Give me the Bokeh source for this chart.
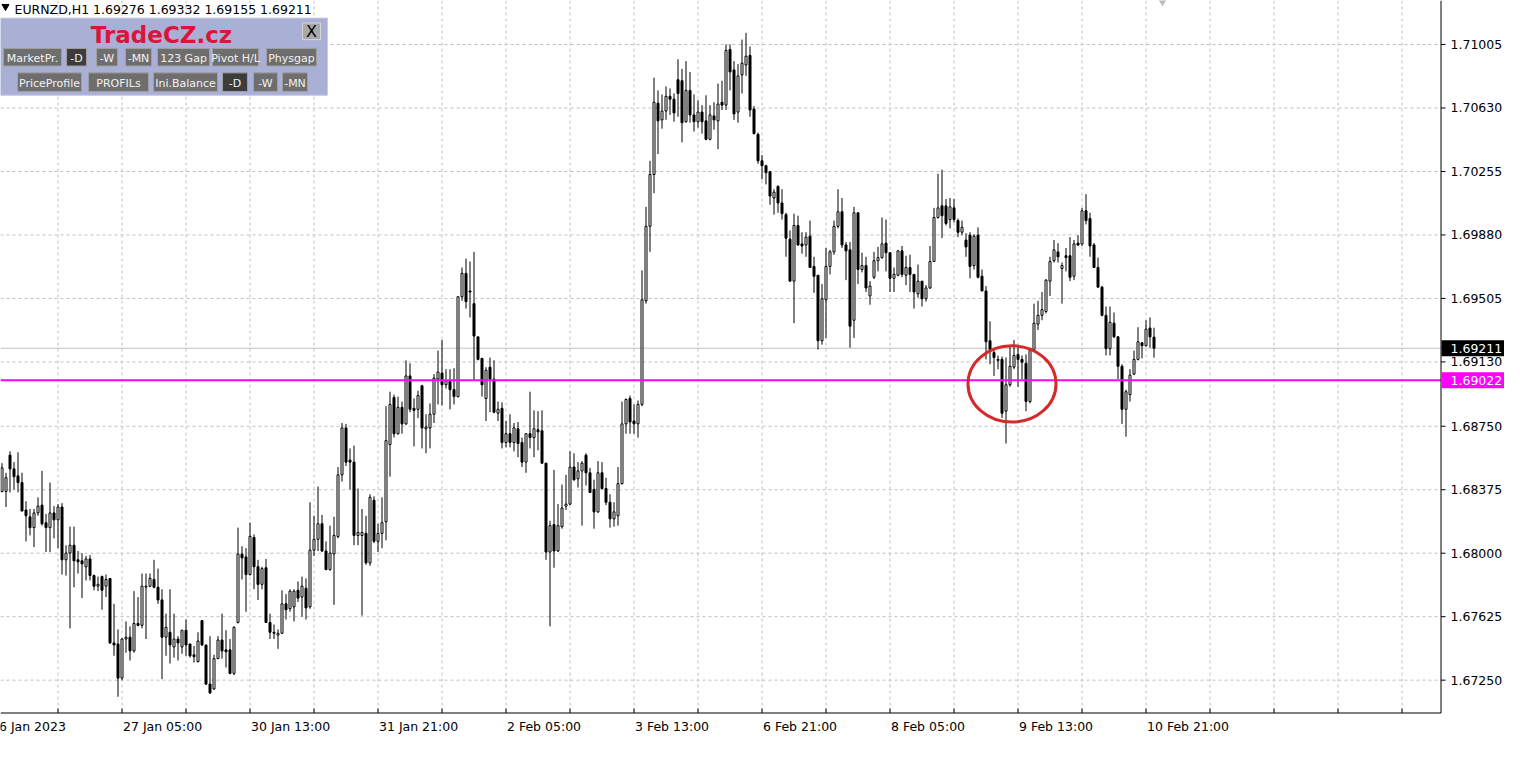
from bokeh.plotting import figure
from bokeh.models import ColumnDataSource
from bokeh.core.properties import value
from bokeh.embed import file_html
from bokeh.resources import INLINE

# ---------------- data (EURNZD, H1) ----------------
symbol = "EURNZD,H1"

opens = [
 1.68365, 1.68365, 1.68579, 1.68498, 1.68457, 1.68417, 1.68255, 1.68215, 1.68151, 1.68238, 1.68284, 1.68180, 1.68151, 1.68238, 1.68197, 1.68273,
 1.67961, 1.68001, 1.68047, 1.67961, 1.67955, 1.67920, 1.67966, 1.67868, 1.67805, 1.67862, 1.67805, 1.67851, 1.67470, 1.67464, 1.67262, 1.67493,
 1.67504, 1.67423, 1.67585, 1.67574, 1.67799, 1.67805, 1.67845, 1.67799, 1.67724, 1.67504, 1.67533, 1.67446, 1.67493, 1.67446, 1.67545, 1.67464,
 1.67400, 1.67360, 1.67602, 1.67458, 1.67227, 1.67198, 1.67377, 1.67487, 1.67429, 1.67429, 1.67290, 1.67591, 1.67995, 1.67978, 1.67874, 1.68093,
 1.67920, 1.67816, 1.67914, 1.67591, 1.67533, 1.67516, 1.67527, 1.67701, 1.67672, 1.67683, 1.67781, 1.67741, 1.67793, 1.67683, 1.68018, 1.68082,
 1.68174, 1.68013, 1.67903, 1.67995, 1.68099, 1.68463, 1.68740, 1.68550, 1.68538, 1.68105, 1.68105, 1.68117, 1.67943, 1.68313, 1.68070, 1.68117,
 1.68186, 1.68642, 1.68920, 1.68706, 1.68862, 1.68764, 1.69047, 1.68856, 1.68850, 1.68989, 1.68735, 1.68740, 1.68821, 1.69029, 1.69064, 1.68995,
 1.69018, 1.68966, 1.68925, 1.69515, 1.69653, 1.69549, 1.69474, 1.69278, 1.69151, 1.68914, 1.69099, 1.69029, 1.68827, 1.68856, 1.68654, 1.68706,
 1.68654, 1.68735, 1.68654, 1.68538, 1.68706, 1.68683, 1.68729, 1.68723, 1.68532, 1.68007, 1.68169, 1.68013, 1.68157, 1.68278, 1.68290, 1.68509,
 1.68440, 1.68486, 1.68579, 1.68475, 1.68377, 1.68244, 1.68475, 1.68382, 1.68301, 1.68203, 1.68221, 1.68411, 1.68764, 1.68914, 1.68781, 1.68764,
 1.68879, 1.69491, 1.69931, 1.70237, 1.70658, 1.70560, 1.70612, 1.70699, 1.70682, 1.70797, 1.70791, 1.70549, 1.70734, 1.70589, 1.70549, 1.70606,
 1.70554, 1.70445, 1.70583, 1.70554, 1.70664, 1.70647, 1.70976, 1.70855, 1.70606, 1.70826, 1.70884, 1.70941, 1.70624, 1.70474, 1.70318, 1.70289,
 1.70254, 1.70098, 1.70167, 1.70069, 1.70000, 1.69855, 1.69607, 1.69936, 1.69827, 1.69821, 1.69873, 1.69694, 1.69642, 1.69255, 1.69497, 1.69694,
 1.69780, 1.69931, 1.70017, 1.69821, 1.69792, 1.69376, 1.70011, 1.69676, 1.69699, 1.69520, 1.69630, 1.69728, 1.69746, 1.69832, 1.69775, 1.69624,
 1.69642, 1.69786, 1.69642, 1.69688, 1.69647, 1.69532, 1.69607, 1.69503, 1.69567, 1.69723, 1.69983, 1.70052, 1.70052, 1.69971, 1.70040, 1.69965,
 1.69896, 1.69850, 1.69879, 1.69699, 1.69879, 1.69636, 1.69549, 1.69255, 1.69185, 1.69139, 1.69145, 1.68839, 1.68995, 1.69099, 1.69174, 1.69145,
 1.69122, 1.68896, 1.69203, 1.69353, 1.69405, 1.69428, 1.69607, 1.69728, 1.69780, 1.69682, 1.69757, 1.69757, 1.69636, 1.69832, 1.69827, 1.70023,
 1.69977, 1.69821, 1.69688, 1.69572, 1.69405, 1.69208, 1.69359, 1.69278, 1.69104, 1.68850, 1.68937, 1.69058, 1.69145, 1.69243, 1.69226, 1.69330,
 1.69276,
]

highs = [
 1.68532, 1.68475, 1.68602, 1.68538, 1.68596, 1.68475, 1.68307, 1.68261, 1.68261, 1.68330, 1.68486, 1.68232, 1.68417, 1.68278, 1.68290, 1.68296,
 1.68047, 1.68157, 1.68157, 1.68013, 1.68001, 1.67984, 1.67989, 1.67874, 1.67862, 1.67868, 1.67874, 1.67851, 1.67701, 1.67550, 1.67498, 1.67597,
 1.67568, 1.67776, 1.67741, 1.67880, 1.67880, 1.67880, 1.67961, 1.67909, 1.67787, 1.67643, 1.67787, 1.67643, 1.67510, 1.67545, 1.67608, 1.67464,
 1.67452, 1.67533, 1.67602, 1.67458, 1.67510, 1.67400, 1.67510, 1.67643, 1.67545, 1.67493, 1.67568, 1.68151, 1.68041, 1.68030, 1.68180, 1.68111,
 1.67961, 1.67920, 1.67966, 1.67643, 1.67579, 1.67550, 1.67781, 1.67758, 1.67787, 1.67787, 1.67833, 1.67862, 1.67851, 1.68301, 1.68221, 1.68394,
 1.68226, 1.68070, 1.68163, 1.68215, 1.68509, 1.68769, 1.68764, 1.68619, 1.68636, 1.68382, 1.68261, 1.68221, 1.68348, 1.68336, 1.68174, 1.68330,
 1.68868, 1.68954, 1.68937, 1.68925, 1.68896, 1.69139, 1.69122, 1.68914, 1.68960, 1.68995, 1.68821, 1.68885, 1.69058, 1.69197, 1.69260, 1.69087,
 1.69087, 1.69093, 1.69515, 1.69688, 1.69740, 1.69723, 1.69780, 1.69278, 1.69151, 1.69099, 1.69156, 1.69139, 1.68896, 1.68891, 1.68781, 1.68821,
 1.68769, 1.68775, 1.68683, 1.68706, 1.68954, 1.68844, 1.68839, 1.68844, 1.68532, 1.68192, 1.68492, 1.68290, 1.68405, 1.68463, 1.68602, 1.68590,
 1.68538, 1.68544, 1.68590, 1.68504, 1.68434, 1.68544, 1.68538, 1.68446, 1.68348, 1.68301, 1.68509, 1.68896, 1.68914, 1.68931, 1.68879, 1.68902,
 1.69671, 1.70046, 1.70318, 1.70809, 1.70734, 1.70710, 1.70757, 1.70745, 1.70716, 1.70918, 1.70861, 1.70907, 1.70843, 1.70710, 1.70676, 1.70647,
 1.70705, 1.70647, 1.70664, 1.70774, 1.70791, 1.71005, 1.71005, 1.70907, 1.70889, 1.71034, 1.71074, 1.70993, 1.70641, 1.70485, 1.70352, 1.70294,
 1.70254, 1.70150, 1.70173, 1.70150, 1.70011, 1.69907, 1.70006, 1.69994, 1.69896, 1.69896, 1.69965, 1.69751, 1.69642, 1.69590, 1.69803, 1.69792,
 1.69965, 1.70150, 1.70098, 1.69838, 1.69838, 1.70046, 1.70011, 1.69775, 1.69751, 1.69607, 1.69780, 1.69809, 1.69983, 1.69971, 1.69775, 1.69688,
 1.69792, 1.69815, 1.69757, 1.69763, 1.69647, 1.69705, 1.69607, 1.69584, 1.69815, 1.70040, 1.70242, 1.70266, 1.70092, 1.70098, 1.70092, 1.69977,
 1.69965, 1.69890, 1.69896, 1.69884, 1.69925, 1.69676, 1.69578, 1.69370, 1.69203, 1.69168, 1.69162, 1.69156, 1.69226, 1.69260, 1.69232, 1.69168,
 1.69174, 1.69203, 1.69474, 1.69491, 1.69543, 1.69619, 1.69751, 1.69850, 1.69832, 1.69717, 1.69803, 1.69867, 1.69850, 1.69879, 1.70040, 1.70121,
 1.70011, 1.69832, 1.69746, 1.69578, 1.69457, 1.69457, 1.69422, 1.69283, 1.69116, 1.68966, 1.69087, 1.69197, 1.69335, 1.69243, 1.69376, 1.69393,
 1.69332,
]

lows = [
 1.68359, 1.68273, 1.68359, 1.68376, 1.68359, 1.68249, 1.68070, 1.68105, 1.68036, 1.68221, 1.68163, 1.68007, 1.68007, 1.68088, 1.68030, 1.67874,
 1.67868, 1.67556, 1.67799, 1.67880, 1.67735, 1.67839, 1.67839, 1.67781, 1.67776, 1.67666, 1.67741, 1.67464, 1.67394, 1.67152, 1.67250, 1.67412,
 1.67366, 1.67412, 1.67568, 1.67556, 1.67493, 1.67799, 1.67793, 1.67701, 1.67256, 1.67394, 1.67348, 1.67383, 1.67366, 1.67406, 1.67394, 1.67383,
 1.67354, 1.67354, 1.67452, 1.67221, 1.67169, 1.67192, 1.67377, 1.67377, 1.67325, 1.67285, 1.67279, 1.67585, 1.67845, 1.67654, 1.67868, 1.67787,
 1.67724, 1.67787, 1.67591, 1.67493, 1.67493, 1.67435, 1.67522, 1.67608, 1.67654, 1.67597, 1.67712, 1.67625, 1.67608, 1.67672, 1.67984, 1.68013,
 1.68007, 1.67903, 1.67897, 1.67695, 1.68088, 1.68423, 1.68515, 1.68377, 1.68047, 1.68047, 1.67631, 1.67932, 1.67926, 1.68059, 1.68007, 1.68030,
 1.68076, 1.68452, 1.68683, 1.68700, 1.68706, 1.68758, 1.68833, 1.68631, 1.68798, 1.68619, 1.68590, 1.68619, 1.68769, 1.68879, 1.68873, 1.68972,
 1.68850, 1.68879, 1.68920, 1.69491, 1.69445, 1.69393, 1.69024, 1.69139, 1.68925, 1.68781, 1.68833, 1.68827, 1.68781, 1.68619, 1.68625, 1.68625,
 1.68602, 1.68567, 1.68509, 1.68475, 1.68619, 1.68567, 1.68608, 1.68527, 1.67961, 1.67568, 1.67914, 1.68007, 1.68145, 1.68255, 1.68284, 1.68428,
 1.68388, 1.68163, 1.68400, 1.68359, 1.68145, 1.68238, 1.68377, 1.68284, 1.68151, 1.68157, 1.68163, 1.68405, 1.68706, 1.68706, 1.68706, 1.68683,
 1.68868, 1.69474, 1.69780, 1.70127, 1.70358, 1.70508, 1.70560, 1.70589, 1.70549, 1.70578, 1.70427, 1.70543, 1.70543, 1.70491, 1.70514, 1.70479,
 1.70439, 1.70439, 1.70502, 1.70387, 1.70618, 1.70618, 1.70734, 1.70560, 1.70543, 1.70716, 1.70820, 1.70578, 1.70474, 1.70300, 1.70208, 1.70179,
 1.70058, 1.70000, 1.70011, 1.69971, 1.69751, 1.69607, 1.69359, 1.69815, 1.69769, 1.69751, 1.69688, 1.69538, 1.69203, 1.69232, 1.69272, 1.69647,
 1.69763, 1.69919, 1.69803, 1.69613, 1.69214, 1.69272, 1.69590, 1.69659, 1.69543, 1.69468, 1.69619, 1.69665, 1.69740, 1.69665, 1.69543, 1.69543,
 1.69636, 1.69630, 1.69584, 1.69543, 1.69445, 1.69509, 1.69457, 1.69486, 1.69561, 1.69723, 1.69977, 1.69861, 1.69936, 1.69919, 1.69954, 1.69867,
 1.69879, 1.69751, 1.69624, 1.69676, 1.69624, 1.69549, 1.69145, 1.69116, 1.69047, 1.69087, 1.68798, 1.68648, 1.68983, 1.69087, 1.68983, 1.69029,
 1.68839, 1.68885, 1.69197, 1.69318, 1.69376, 1.69416, 1.69520, 1.69717, 1.69717, 1.69474, 1.69665, 1.69607, 1.69613, 1.69815, 1.69815, 1.69942,
 1.69751, 1.69688, 1.69567, 1.69399, 1.69168, 1.69168, 1.69272, 1.69029, 1.68764, 1.68688, 1.68896, 1.69052, 1.69139, 1.69151, 1.69220, 1.69214,
 1.69155,
]

closes = [
 1.68504, 1.68446, 1.68498, 1.68452, 1.68417, 1.68249, 1.68221, 1.68151, 1.68238, 1.68278, 1.68174, 1.68151, 1.68238, 1.68197, 1.68273, 1.67961,
 1.68001, 1.68047, 1.67955, 1.67949, 1.67937, 1.67966, 1.67868, 1.67805, 1.67816, 1.67781, 1.67845, 1.67470, 1.67458, 1.67262, 1.67493, 1.67504,
 1.67423, 1.67585, 1.67574, 1.67805, 1.67805, 1.67851, 1.67799, 1.67724, 1.67504, 1.67562, 1.67458, 1.67493, 1.67470, 1.67545, 1.67458, 1.67394,
 1.67389, 1.67481, 1.67458, 1.67227, 1.67175, 1.67377, 1.67487, 1.67423, 1.67418, 1.67290, 1.67562, 1.67995, 1.67972, 1.67874, 1.68099, 1.67920,
 1.67816, 1.67909, 1.67591, 1.67533, 1.67527, 1.67527, 1.67701, 1.67666, 1.67776, 1.67776, 1.67735, 1.67805, 1.67677, 1.68018, 1.68082, 1.68174,
 1.68013, 1.67903, 1.68001, 1.68105, 1.68463, 1.68740, 1.68538, 1.68538, 1.68105, 1.68122, 1.68122, 1.67943, 1.68330, 1.68070, 1.68117, 1.68180,
 1.68665, 1.68879, 1.68706, 1.68862, 1.68764, 1.69047, 1.68850, 1.68844, 1.68931, 1.68740, 1.68746, 1.68821, 1.69035, 1.69070, 1.68995, 1.69018,
 1.68966, 1.68925, 1.69515, 1.69653, 1.69486, 1.69543, 1.69283, 1.69145, 1.68995, 1.69081, 1.69029, 1.68833, 1.68850, 1.68654, 1.68706, 1.68654,
 1.68740, 1.68648, 1.68538, 1.68706, 1.68683, 1.68735, 1.68717, 1.68532, 1.68007, 1.68163, 1.68013, 1.68163, 1.68267, 1.68290, 1.68509, 1.68434,
 1.68486, 1.68532, 1.68475, 1.68359, 1.68244, 1.68475, 1.68382, 1.68301, 1.68203, 1.68244, 1.68411, 1.68764, 1.68908, 1.68775, 1.68764, 1.68879,
 1.69497, 1.69931, 1.70237, 1.70664, 1.70554, 1.70612, 1.70699, 1.70682, 1.70601, 1.70716, 1.70543, 1.70734, 1.70589, 1.70549, 1.70606, 1.70549,
 1.70445, 1.70589, 1.70560, 1.70653, 1.70647, 1.70970, 1.70843, 1.70595, 1.70820, 1.70895, 1.70936, 1.70618, 1.70479, 1.70318, 1.70289, 1.70248,
 1.70110, 1.70133, 1.70069, 1.70006, 1.69861, 1.69607, 1.69936, 1.69821, 1.69815, 1.69867, 1.69688, 1.69636, 1.69255, 1.69503, 1.69694, 1.69780,
 1.69931, 1.70017, 1.69821, 1.69786, 1.69341, 1.70011, 1.69676, 1.69699, 1.69567, 1.69578, 1.69728, 1.69746, 1.69827, 1.69775, 1.69624, 1.69647,
 1.69786, 1.69647, 1.69688, 1.69647, 1.69543, 1.69607, 1.69503, 1.69567, 1.69723, 1.69983, 1.70040, 1.69994, 1.69948, 1.70046, 1.69971, 1.69896,
 1.69925, 1.69809, 1.69694, 1.69873, 1.69630, 1.69549, 1.69249, 1.69203, 1.69156, 1.69145, 1.68827, 1.68995, 1.69104, 1.69168, 1.69145, 1.69128,
 1.68896, 1.69197, 1.69359, 1.69405, 1.69439, 1.69613, 1.69723, 1.69792, 1.69751, 1.69699, 1.69746, 1.69630, 1.69827, 1.69821, 1.70023, 1.69965,
 1.69815, 1.69688, 1.69572, 1.69405, 1.69208, 1.69364, 1.69278, 1.69104, 1.68850, 1.68954, 1.69052, 1.69145, 1.69249, 1.69226, 1.69324, 1.69278,
 1.69211,
]

price_ticks = [1.67250, 1.67625, 1.68000, 1.68375, 1.68750, 1.69130,
               1.69505, 1.69880, 1.70255, 1.70630, 1.71005]
grid_bars = list(range(14, 351, 16))
date_bars = [-2, 30, 62, 94, 126, 158, 190, 222, 254, 286]
date_labels = ["26 Jan 2023", "27 Jan 05:00", "30 Jan 13:00", "31 Jan 21:00",
               "2 Feb 05:00", "3 Feb 13:00", "6 Feb 21:00", "8 Feb 05:00",
               "9 Feb 13:00", "10 Feb 21:00"]
bid_price = 1.69211
level_price = 1.69022
circle_bar, circle_price = 252.5, 1.69000
circle_w_bars, circle_h_price = 22, 0.00451

# ---------------- geometry ----------------
W, H = 1504, 742          # whole canvas
CW, CH = 1440, 712        # chart area (price axis to the right, time axis below)
PX_PER_BAR = 4
P_LO, P_HI = 1.67059, 1.71265
PPU = CH / (P_HI - P_LO)  # pixels per price unit
X0 = -0.375
X1 = X0 + W / PX_PER_BAR
Y1 = P_HI
Y0 = P_HI - H / PPU

def fx(px):               # canvas px -> bar coordinate
    return X0 + px / PX_PER_BAR

def fy(py):               # canvas px (from top) -> price
    return Y1 - py / PPU

def fyr(py):              # reference px (728 tall chart) -> price, for the panel
    return P_HI - py * (P_HI - P_LO) / 728.0

p = figure(width=W, height=H, x_range=(X0, X1), y_range=(Y0, Y1),
           x_axis_location=None, y_axis_location=None,
           output_backend="svg", toolbar_location=None,
           min_border_left=0, min_border_top=0, min_border_right=0, min_border_bottom=0)
p.outline_line_color = None
p.background_fill_color = "white"
p.border_fill_color = "white"
p.grid.grid_line_color = None
p.grid.visible = False

FONT = "DejaVu Sans"
XE = fx(CW + 0.5)          # chart right edge (price axis line)
YE = fy(CH + 0.5)          # chart bottom edge (time axis line)

# ---------------- grid ----------------
p.segment(x0=[fx(0)] * len(price_ticks), y0=price_ticks, x1=[fx(CW)] * len(price_ticks),
          y1=price_ticks, line_color="#c0c0c0", line_dash="3 3", line_width=1)
p.segment(x0=grid_bars, y0=[fy(0)] * len(grid_bars), x1=grid_bars, y1=[YE] * len(grid_bars),
          line_color="#c0c0c0", line_dash="3 3", line_width=1)

# bid line
p.segment(x0=[fx(0)], y0=[bid_price], x1=[XE], y1=[bid_price], line_color="#c0c0c0", line_width=1)

# ---------------- candles ----------------
n = len(closes)
src = ColumnDataSource(dict(
    x=list(range(n)),
    high=highs, low=lows,
    top=[max(o, c) for o, c in zip(opens, closes)],
    bot=[min(o, c) for o, c in zip(opens, closes)],
    fill=["white" if c >= o else "black" for o, c in zip(opens, closes)],
))
p.segment(x0="x", y0="low", x1="x", y1="high", source=src, line_color="black", line_width=1)
p.vbar(x="x", width=0.5, top="top", bottom="bot", fill_color="fill",
       line_color="black", line_width=1, source=src)

# level line
p.segment(x0=[fx(0)], y0=[level_price], x1=[XE], y1=[level_price], line_color="#ff00ff", line_width=2)

# red circle
p.ellipse(x=[circle_bar], y=[circle_price], width=[circle_w_bars], height=[circle_h_price],
          fill_color=None, line_color="#d42a2a", line_width=3)

# ---------------- axes (drawn) ----------------
p.segment(x0=[XE], y0=[fy(0)], x1=[XE], y1=[YE], line_color="black", line_width=1)
p.segment(x0=[fx(0)], y0=[YE], x1=[XE], y1=[YE], line_color="black", line_width=1)
p.segment(x0=[XE] * len(price_ticks), y0=price_ticks, x1=[fx(CW + 5)] * len(price_ticks),
          y1=price_ticks, line_color="black", line_width=1)
p.text(x=[fx(CW + 10)] * len(price_ticks), y=price_ticks, text=[f"{t:.5f}" for t in price_ticks],
       text_align="left", text_baseline="middle", text_color="black",
       text_font=value(FONT), text_font_size="12.5px")
p.segment(x0=grid_bars, y0=[fy(CH - 4)] * len(grid_bars), x1=grid_bars, y1=[YE] * len(grid_bars),
          line_color="black", line_width=1)
p.text(x=date_bars[:1], y=[fy(CH + 14)], text=date_labels[:1], x_offset=-3,
       text_align="left", text_baseline="middle", text_color="black",
       text_font=value(FONT), text_font_size="12.5px")
p.text(x=date_bars[1:], y=[fy(CH + 14)] * (len(date_bars) - 1), text=date_labels[1:], x_offset=1,
       text_align="left", text_baseline="middle", text_color="black",
       text_font=value(FONT), text_font_size="12.5px")

# price tags
tag_prices = [bid_price, level_price]
tag_colors = ["black", "#ff00ff"]
half = 8 / PPU
p.quad(left=[fx(CW + 1)] * 2, right=[fx(W)] * 2, top=[t + half for t in tag_prices],
       bottom=[t - half for t in tag_prices], fill_color=tag_colors, line_color=None)
p.text(x=[fx(CW + 10)] * 2, y=tag_prices, text=[f"{t:.5f}" for t in tag_prices],
       text_align="left", text_baseline="middle", text_color="white",
       text_font=value(FONT), text_font_size="12.5px")

# ---------------- header & panel ----------------
p.scatter(x=[fx(5)], y=[fy(6)], marker="inverted_triangle", size=7, color="black")
p.text(x=[fx(14)], y=[fy(9)],
       text=[f"{symbol}  {opens[-1]:.5f} {highs[-1]:.5f} {lows[-1]:.5f} {closes[-1]:.5f}"],
       text_align="left", text_baseline="middle", text_color="black",
       text_font=value(FONT), text_font_size="12.5px")

p.scatter(x=[fx(1162)], y=[fy(-3)], marker="inverted_triangle", size=14, color="#b8b8b8")

p.quad(left=[fx(0)], right=[fx(327)], top=[fyr(18)], bottom=[fyr(97)],
       fill_color="#aab0d5", line_color="#c8cbe6", line_width=1)
p.text(x=[fx(161)], y=[fyr(35)], text=["TradeCZ.cz"], text_align="center",
       text_baseline="middle", text_color="#dc143c", text_font=value(FONT),
       text_font_size="23px", text_font_style="bold")
p.quad(left=[fx(302)], right=[fx(320)], top=[fyr(23)], bottom=[fyr(40)],
       fill_color="#a9a9a9", line_color="#d6d6d6", line_width=1)
p.text(x=[fx(311)], y=[fyr(32)], text=["X"], text_align="center", text_baseline="middle",
       text_color="black", text_font=value(FONT), text_font_size="16px")

btn_text = ["MarketPr.", "-D", "-W", "-MN", "123 Gap", "Pivot H/L", "Physgap",
            "PriceProfile", "PROFILs", "Ini.Balance", "-D", "-W", "-MN"]
btn_x0 = [3, 66, 96, 125, 157, 212, 266, 17, 88, 153, 222, 253, 282]
btn_x1 = [61, 86, 117, 151, 209, 258, 316, 81, 148, 217, 247, 277, 307]
btn_row = [0, 0, 0, 0, 0, 0, 0, 1, 1, 1, 1, 1, 1]
row_top = [49, 74]
row_bot = [67, 93]
btn_fill = ["#3c3c3c" if t == "-D" else "#6e6e6e" for t in btn_text]
bsrc = ColumnDataSource(dict(
    left=[fx(a) for a in btn_x0], right=[fx(b) for b in btn_x1],
    top=[fyr(row_top[r]) for r in btn_row], bottom=[fyr(row_bot[r]) for r in btn_row],
    xc=[fx((a + b) / 2) for a, b in zip(btn_x0, btn_x1)],
    yc=[fyr((row_top[r] + row_bot[r]) / 2 + 1) for r in btn_row],
    text=btn_text, fill=btn_fill,
))
p.quad(left="left", right="right", top="top", bottom="bottom", fill_color="fill",
       line_color="#a0a0a0", line_width=1, source=bsrc)
p.text(x="xc", y="yc", text="text", text_align="center", text_baseline="middle",
       text_color="#f2f2f2", text_font=value(FONT), text_font_size="11px", source=bsrc)

open("out.html", "w").write(file_html(p, INLINE))
